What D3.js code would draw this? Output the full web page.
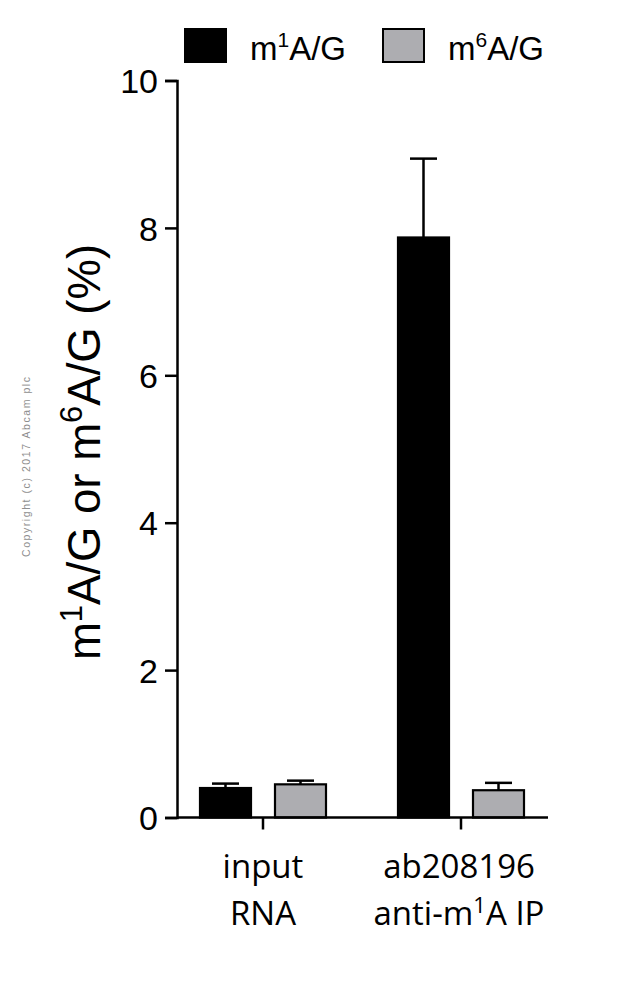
<!DOCTYPE html>
<html>
<head>
<meta charset="utf-8">
<script src="https://cdn.jsdelivr.net/npm/d3@7"></script>
<style>
  body { margin: 0; background: #fff; }
  svg { display: block; }
  .tick text { font-family: "Liberation Sans", Arial, sans-serif; }
</style>
</head>
<body>
<div id="chart"></div>
<script>
// data
const groups = ['input RNA', 'ab208196 anti-m1A IP']
const series = ['m1A/G', 'm6A/G']
const m1aValues = [0.40, 7.87]
const m1aErrors = [0.06, 1.07]
const m6aValues = [0.45, 0.37]
const m6aErrors = [0.05, 0.10]
const yTicks = [0, 2, 4, 6, 8, 10]

const colors = { 'm1A/G': '#000000', 'm6A/G': '#adadb1' }

const rows = []
groups.forEach((g, i) => {
  rows.push({ group: g, key: 'm1A/G', value: m1aValues[i], err: m1aErrors[i] })
  rows.push({ group: g, key: 'm6A/G', value: m6aValues[i], err: m6aErrors[i] })
})

const width = 626, height = 993
const svg = d3.select('#chart').append('svg')
  .attr('width', width)
  .attr('height', height)

const x0 = d3.scaleBand().domain(groups).range([164, 560]).padding(0)
const x1 = d3.scaleBand().domain(series).range([24, 174])
  .paddingInner(0.32).paddingOuter(0.16)
const y = d3.scaleLinear().domain([0, 10]).range([817.5, 80.5])
const axisX = 177

// bars
svg.append('g').selectAll('rect')
  .data(rows)
  .join('rect')
  .attr('x', d => x0(d.group) + x1(d.key))
  .attr('y', d => y(d.value))
  .attr('width', x1.bandwidth())
  .attr('height', d => y(0) - y(d.value))
  .attr('fill', d => colors[d.key])
  .attr('stroke', '#000')
  .attr('stroke-width', 2.2)

// error bars (upper only)
const eb = svg.append('g').attr('stroke', '#000').attr('stroke-width', 2.5)
rows.forEach(d => {
  const cx = x0(d.group) + x1(d.key) + x1.bandwidth() / 2
  eb.append('line')
    .attr('x1', cx).attr('x2', cx)
    .attr('y1', y(d.value)).attr('y2', y(d.value + d.err))
  eb.append('line')
    .attr('x1', cx - 13.5).attr('x2', cx + 13.5)
    .attr('y1', y(d.value + d.err)).attr('y2', y(d.value + d.err))
})

// y axis
const yAxis = svg.append('g')
  .attr('transform', `translate(${axisX},0)`)
  .call(d3.axisLeft(y).tickValues(yTicks).tickSize(12).tickPadding(7).tickFormat(d3.format('d')))
yAxis.select('.domain').attr('stroke-width', 2.5)
yAxis.selectAll('.tick line').attr('stroke-width', 2.5)
yAxis.selectAll('.tick text').attr('font-size', 34).attr('fill', '#000').attr('dy', '0.36em')

// x axis
const xAxis = svg.append('g')
  .attr('transform', `translate(0,${y(0)})`)
  .call(d3.axisBottom(x0).tickSize(12).tickFormat(''))
xAxis.select('.domain').remove()
xAxis.selectAll('.tick line').attr('stroke-width', 2.5)
svg.append('line')
  .attr('x1', axisX).attr('x2', 548)
  .attr('y1', y(0)).attr('y2', y(0))
  .attr('stroke', '#000').attr('stroke-width', 2.5)

// x category labels
const xlab = svg.append('g')
  .attr('font-family', '"Open Sans", sans-serif')
  .attr('font-size', 33)
  .attr('text-anchor', 'middle')
  .attr('fill', '#000')
const c1 = x0(groups[0]) + x0.bandwidth() / 2
const c2 = x0(groups[1]) + x0.bandwidth() / 2
xlab.append('text').attr('x', c1).attr('y', 878).text('input')
xlab.append('text').attr('x', c1).attr('y', 925).text('RNA')
xlab.append('text').attr('x', c2 - 2).attr('y', 878).text('ab208196')
const t2 = xlab.append('text').attr('x', c2 - 2).attr('y', 925)
t2.append('tspan').text('anti-m')
t2.append('tspan').attr('font-size', 22).attr('dy', -12).text('1')
t2.append('tspan').attr('dy', 12).text('A IP')

// y title
const yt = svg.append('text')
  .attr('transform', 'translate(100,452) rotate(-90)')
  .attr('text-anchor', 'middle')
  .attr('font-family', '"Liberation Sans", Arial, sans-serif')
  .attr('font-size', 45.5)
  .attr('fill', '#000')
yt.append('tspan').text('m')
yt.append('tspan').attr('font-size', 31).attr('dy', -18).text('1')
yt.append('tspan').attr('dy', 18).text('A/G or m')
yt.append('tspan').attr('font-size', 31).attr('dy', -18).text('6')
yt.append('tspan').attr('dy', 18).text('A/G (%)')

// copyright
svg.append('text')
  .attr('transform', 'translate(30,467) rotate(-90)')
  .attr('text-anchor', 'middle')
  .attr('font-family', '"Liberation Sans", Arial, sans-serif')
  .attr('font-size', 10.5)
  .attr('fill', '#8e8e8e')
  .attr('textLength', 180)
  .attr('lengthAdjust', 'spacing')
  .text('Copyright (c) 2017 Abcam plc')

// legend
const legendX = [185, 383]
const leg = svg.append('g')
series.forEach((s, i) => {
  leg.append('rect')
    .attr('x', legendX[i]).attr('y', 29)
    .attr('width', 41).attr('height', 33)
    .attr('fill', colors[s])
    .attr('stroke', '#000').attr('stroke-width', 2)
  const t = leg.append('text')
    .attr('x', legendX[i] + 65).attr('y', 60)
    .attr('font-family', '"Liberation Sans", Arial, sans-serif')
    .attr('font-size', 33)
    .attr('fill', '#000')
  t.append('tspan').text('m')
  t.append('tspan').attr('font-size', 21).attr('dy', -13).text(i === 0 ? '1' : '6')
  t.append('tspan').attr('dy', 13).text('A/G')
})
</script>
</body>
</html>
